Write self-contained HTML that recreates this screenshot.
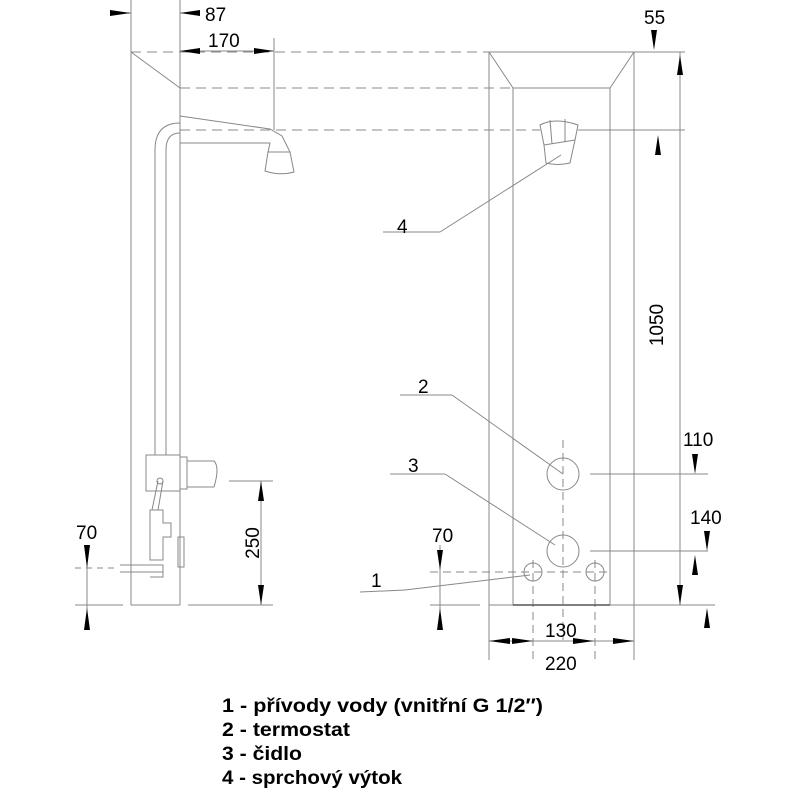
<!DOCTYPE html>
<html><head><style>body{margin:0;background:#fff}svg{display:block}</style></head><body>
<svg width="800" height="800" viewBox="0 0 800 800" xmlns="http://www.w3.org/2000/svg" font-family="Liberation Sans, sans-serif">
<g stroke="#888" stroke-width="1" fill="none">
<line x1="131" y1="45" x2="131" y2="605"/>
<line x1="180" y1="0" x2="180" y2="605"/>
<line x1="131" y1="0" x2="131" y2="45"/>
<line x1="274" y1="38" x2="274" y2="130"/>
<line x1="131" y1="52" x2="180" y2="88"/>
<line x1="131" y1="605" x2="180" y2="605"/>
<path d="M180 116 L270 129 L282 136 L290 152 L294 172 Q280 176 265 171 L268 152 L270 143 L180 143"/>
<line x1="268" y1="152" x2="290" y2="152"/>
<path d="M180 123 Q155 123 155 150 L155 440"/>
<path d="M180 133 Q166 133 166 150 L166 440"/>
<rect x="146" y="455" width="34" height="36"/>
<path d="M155 455 V440 M166 455 V440"/>
<rect x="180" y="457" width="7" height="32"/>
<path d="M187 461 H214 Q220 467 214 487 H187"/>
<path d="M158 481 L152 510 M163 481 L158 510"/>
<circle cx="160" cy="481" r="3"/>
<path d="M150 510 H163 V523 H171 V537 H163 V560 H150 Z"/>
<path d="M120 565 H163 V572 H120 M150 572 H163 V577 H150"/>
<rect x="178" y="537" width="6" height="30"/>
<line x1="75" y1="605" x2="123" y2="605"/>
<line x1="188" y1="605" x2="273" y2="605"/>
<line x1="229" y1="481" x2="273" y2="481"/>
<line x1="261" y1="481" x2="261" y2="605"/>
<line x1="87" y1="545" x2="87" y2="630"/>
<line x1="75" y1="568" x2="115" y2="568" stroke-dasharray="6 5"/>
<line x1="110" y1="13" x2="131" y2="13"/>
<line x1="180" y1="13" x2="200" y2="13"/>
<line x1="180" y1="51" x2="274" y2="51"/>
<line x1="131" y1="52" x2="490" y2="52" stroke-dasharray="10 6"/>
<line x1="180" y1="88" x2="513" y2="88" stroke-dasharray="10 6"/>
<line x1="180" y1="130" x2="540" y2="130" stroke-dasharray="10 6"/>
<rect x="489" y="52" width="145" height="553"/>
<rect x="513" y="88" width="97" height="517"/>
<line x1="489" y1="52" x2="513" y2="88"/><line x1="634" y1="52" x2="610" y2="88"/>
<line x1="634" y1="52" x2="685" y2="52"/>
<line x1="578" y1="130" x2="685" y2="130"/>
<line x1="680" y1="52" x2="680" y2="605"/>
<path d="M540 125 Q555 117 578 125 L575 140 L570 163 Q557 166 546 163 L544 145 Z"/>
<path d="M544 145 L575 140 M550 120 L552 144 M565 119 L565 142"/>
<line x1="383" y1="232" x2="440" y2="232"/><line x1="440" y1="232" x2="561" y2="155"/>
<line x1="400" y1="395" x2="452" y2="395"/><line x1="452" y1="395" x2="563" y2="474"/>
<line x1="390" y1="474" x2="445" y2="474"/><line x1="445" y1="474" x2="555" y2="545"/>
<line x1="360" y1="592" x2="405" y2="590"/><line x1="405" y1="590" x2="530" y2="575"/>
<circle cx="563" cy="474" r="16"/>
<circle cx="563" cy="551" r="16"/>
<circle cx="533" cy="572" r="9"/>
<circle cx="595" cy="572" r="9"/>
<line x1="563" y1="440" x2="563" y2="640" stroke-dasharray="8 5"/>
<line x1="533" y1="560" x2="533" y2="660" stroke-dasharray="8 5"/>
<line x1="595" y1="560" x2="595" y2="660" stroke-dasharray="8 5"/>
<line x1="590" y1="474" x2="708" y2="474"/>
<line x1="590" y1="551" x2="708" y2="551"/>
<line x1="430" y1="572" x2="610" y2="572" stroke-dasharray="8 5"/>
<line x1="430" y1="605" x2="480" y2="605"/>
<line x1="610" y1="605" x2="715" y2="605"/>
<line x1="489" y1="605" x2="489" y2="660"/>
<line x1="634" y1="605" x2="634" y2="660"/>
<line x1="489" y1="641" x2="634" y2="641"/>
<line x1="440" y1="545" x2="440" y2="630"/>
</g>
<line x1="513" y1="605" x2="610" y2="605" stroke="#555" stroke-width="1.5"/>
<g fill="#000">
<polygon points="110,10 131,13 110,16"/>
<polygon points="200,10 180,13 200,16"/>
<polygon points="200,48 180,51 200,54"/>
<polygon points="254,48 274,51 254,54"/>
<polygon points="258,501 261,481 264,501"/>
<polygon points="258,585 261,605 264,585"/>
<polygon points="84,545 87,568 90,545"/>
<polygon points="84,630 87,608 90,630"/>
<polygon points="651,30 654,50 657,30"/>
<polygon points="677,75 680,55 683,75"/>
<polygon points="655,155 658,135 661,155"/>
<polygon points="677,585 680,605 683,585"/>
<polygon points="692,454 695,474 698,454"/>
<polygon points="704,531 707,551 710,531"/>
<polygon points="692,575 695,555 698,575"/>
<polygon points="704,628 707,608 710,628"/>
<polygon points="437,550 440,570 443,550"/>
<polygon points="437,630 440,608 443,630"/>
<polygon points="489,641 510,638 510,644"/>
<polygon points="533,641 512,638 512,644"/>
<polygon points="594,641 573,638 573,644"/>
<polygon points="634,641 613,638 613,644"/>
</g>
<g font-size="19" fill="#000">
<text x="205" y="21">87</text>
<text x="208" y="47">170</text>
<text x="644" y="24">55</text>
<text x="663" y="325" transform="rotate(-90 663 325)" text-anchor="middle">1050</text>
<text x="683" y="446">110</text>
<text x="690" y="524">140</text>
<text x="432" y="542">70</text>
<text x="76" y="539">70</text>
<text x="259" y="543" transform="rotate(-90 259 543)" text-anchor="middle">250</text>
<text x="545" y="637">130</text>
<text x="545" y="670">220</text>
<text x="397" y="233">4</text>
<text x="418" y="393">2</text>
<text x="408" y="472">3</text>
<text x="371" y="587">1</text>
</g>
<g font-size="19" font-weight="bold" fill="#000">
<text x="222" y="712" textLength="321" lengthAdjust="spacingAndGlyphs">1 - přívody vody (vnitřní G 1/2″)</text>
<text x="222" y="736" textLength="128" lengthAdjust="spacingAndGlyphs">2 - termostat</text>
<text x="222" y="760" textLength="80" lengthAdjust="spacingAndGlyphs">3 - čidlo</text>
<text x="222" y="784" textLength="180" lengthAdjust="spacingAndGlyphs">4 - sprchový výtok</text>
</g>
</svg>
</body></html>
